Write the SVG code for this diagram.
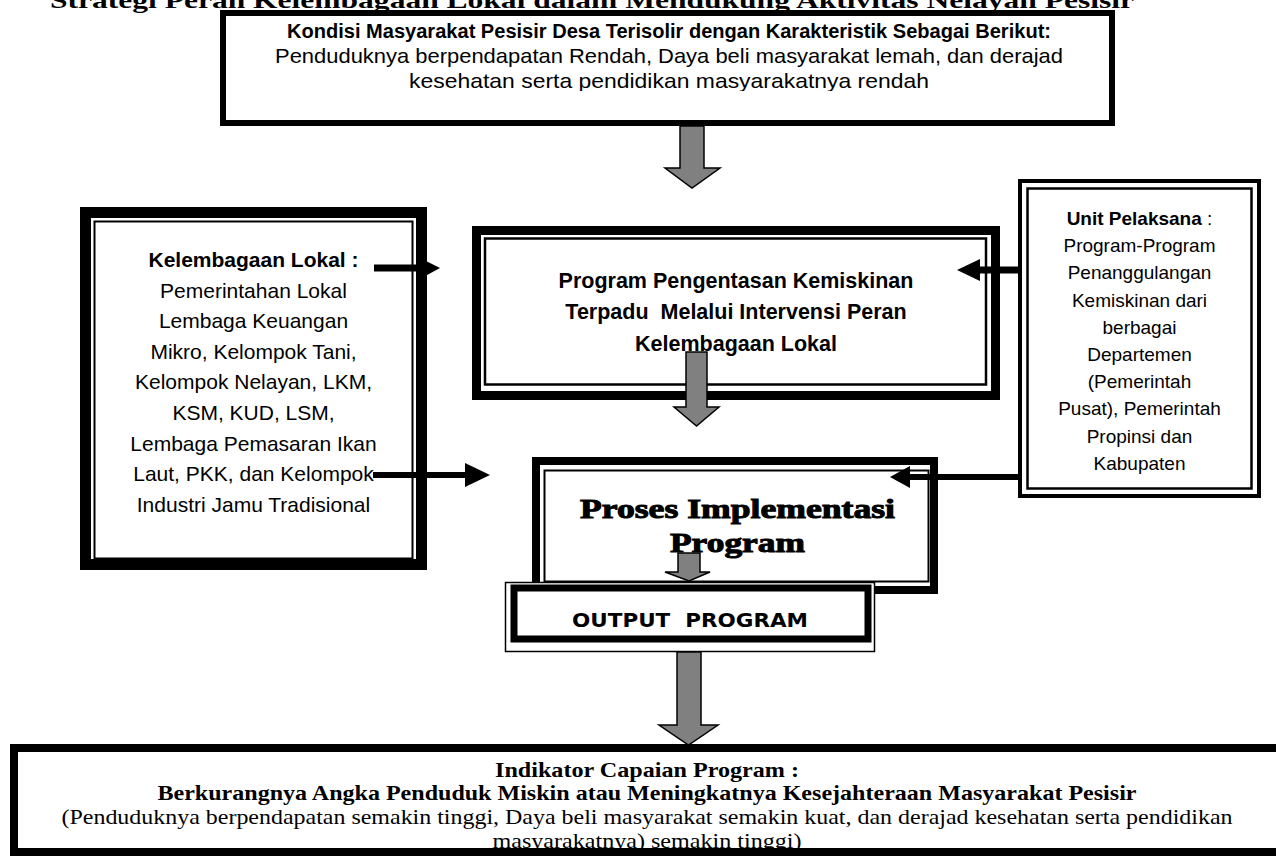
<svg xmlns="http://www.w3.org/2000/svg" width="1276" height="856" viewBox="0 0 1276 856">
<style>
.sans{font-family:"Liberation Sans",Arial,sans-serif;fill:#000}
.serif{font-family:"Liberation Serif","Times New Roman",serif;fill:#000}
.b{font-weight:bold}
.blk{fill:#000;stroke:none}
.gray{fill:#808080;stroke:#000;stroke-width:1.5;stroke-linejoin:miter}
.bar{stroke:#000;fill:none}
</style>
<defs>
<clipPath id="topclip"><rect x="226" y="16" width="883" height="75"/></clipPath>
</defs>
<rect x="0" y="0" width="1276" height="856" fill="#fff"/>
<text class="serif b" x="50" y="8" font-size="24" textLength="1084" lengthAdjust="spacingAndGlyphs">Strategi Peran Kelembagaan Lokal dalam Mendukung Aktivitas Nelayan Pesisir</text>

<g id="kondisi">
<rect x="223" y="13" width="889" height="110" fill="#fff" stroke="#000" stroke-width="6"/>
<g clip-path="url(#topclip)">
<text class="sans b" x="669" y="38" font-size="20" text-anchor="middle" textLength="764" lengthAdjust="spacingAndGlyphs">Kondisi Masyarakat Pesisir Desa Terisolir dengan Karakteristik Sebagai Berikut:</text>
<text class="sans" x="669" y="63" font-size="21" text-anchor="middle" textLength="788" lengthAdjust="spacingAndGlyphs">Penduduknya berpendapatan Rendah, Daya beli masyarakat lemah, dan derajad</text>
<text class="sans" x="669" y="88" font-size="21" text-anchor="middle" textLength="520" lengthAdjust="spacingAndGlyphs">kesehatan serta pendidikan masyarakatnya rendah</text>
</g>
</g>

<g id="kelembagaan">
<rect x="85.5" y="212.5" width="336" height="352" fill="#fff" stroke="#000" stroke-width="11"/>
<rect x="94.5" y="221.5" width="318" height="337" fill="none" stroke="#000" stroke-width="2"/>
<g class="sans" font-size="21" text-anchor="middle">
<text class="b" x="253.5" y="267">Kelembagaan Lokal :</text>
<text x="253.5" y="297.6">Pemerintahan Lokal</text>
<text x="253.5" y="328.2">Lembaga Keuangan</text>
<text x="253.5" y="358.8">Mikro, Kelompok Tani,</text>
<text x="253.5" y="389.4">Kelompok Nelayan, LKM,</text>
<text x="253.5" y="420">KSM, KUD, LSM,</text>
<text x="253.5" y="450.6">Lembaga Pemasaran Ikan</text>
<text x="253.5" y="481.2">Laut, PKK, dan Kelompok</text>
<text x="253.5" y="511.8">Industri Jamu Tradisional</text>
</g>
</g>

<g id="program">
<rect x="476.5" y="230.5" width="519" height="165" fill="#fff" stroke="#000" stroke-width="9"/>
<rect x="485" y="238.5" width="501" height="146" fill="none" stroke="#000" stroke-width="2.5"/>
<g class="sans b" font-size="21.5" text-anchor="middle">
<text x="736" y="288">Program Pengentasan Kemiskinan</text>
<text x="736" y="319">Terpadu&#160; Melalui Intervensi Peran</text>
<text x="736" y="351">Kelembagaan Lokal</text>
</g>
</g>

<g id="unit">
<rect x="1020" y="181" width="239" height="315" fill="#fff" stroke="#000" stroke-width="4"/>
<rect x="1027.5" y="188.5" width="224" height="300" fill="none" stroke="#000" stroke-width="2.5"/>
<g class="sans" font-size="19" text-anchor="middle">
<text x="1139.5" y="225"><tspan class="b">Unit Pelaksana</tspan> :</text>
<text x="1139.5" y="252.2">Program-Program</text>
<text x="1139.5" y="279.4">Penanggulangan</text>
<text x="1139.5" y="306.6">Kemiskinan dari</text>
<text x="1139.5" y="333.8">berbagai</text>
<text x="1139.5" y="361">Departemen</text>
<text x="1139.5" y="388.2">(Pemerintah</text>
<text x="1139.5" y="415.4">Pusat), Pemerintah</text>
<text x="1139.5" y="442.6">Propinsi dan</text>
<text x="1139.5" y="469.8">Kabupaten</text>
</g>
</g>

<g id="proses">
<rect x="536" y="461" width="398" height="129" fill="#fff" stroke="#000" stroke-width="8"/>
<rect x="544.5" y="470.5" width="384" height="111" fill="none" stroke="#000" stroke-width="2"/>
<text class="serif b" x="737.5" y="518" font-size="28" text-anchor="middle" stroke="#000" stroke-width="1" textLength="315" lengthAdjust="spacingAndGlyphs">Proses Implementasi</text>
<text class="serif b" x="737.5" y="552" font-size="28" text-anchor="middle" stroke="#000" stroke-width="1" textLength="135" lengthAdjust="spacingAndGlyphs">Program</text>
</g>

<g id="output">
<rect x="505.5" y="582.5" width="369" height="69" fill="#fff" stroke="#000" stroke-width="1.5"/>
<rect x="514" y="588" width="354" height="51" fill="none" stroke="#000" stroke-width="7"/>
<text x="690" y="627" font-family="'DejaVu Sans',Verdana,sans-serif" font-weight="bold" font-size="19" text-anchor="middle" textLength="236" lengthAdjust="spacingAndGlyphs">OUTPUT&#160; PROGRAM</text>
</g>

<g id="indikator">
<rect x="14" y="748" width="1270" height="104" fill="#fff"/>
<g class="serif" font-size="22" text-anchor="middle">
<text class="b" x="647" y="777" textLength="304" lengthAdjust="spacingAndGlyphs">Indikator Capaian Program :</text>
<text class="b" x="647" y="800" textLength="979" lengthAdjust="spacingAndGlyphs">Berkurangnya Angka Penduduk Miskin atau Meningkatnya Kesejahteraan Masyarakat Pesisir</text>
<text x="647" y="824" textLength="1171" lengthAdjust="spacingAndGlyphs">(Penduduknya berpendapatan semakin tinggi, Daya beli masyarakat semakin kuat, dan derajad kesehatan serta pendidikan</text>
<text x="647" y="848" textLength="309" lengthAdjust="spacingAndGlyphs">masyarakatnya) semakin tinggi)</text>
</g>
<rect x="14" y="748" width="1270" height="104" fill="none" stroke="#000" stroke-width="8"/>
</g>

<g id="connectors">
<polygon class="gray" points="680,126 704,126 704,168 720,168 692,188 665,168 680,168"/>
<polygon class="gray" points="686,352 707,352 707,407 719,407 696.5,426 674,407 686,407"/>
<polygon class="gray" points="678,553 700,553 700,572 710,572 689,581 665,572 678,572"/>
<polygon class="gray" points="677,652 701,652 701,725 718,725 688.5,745 659,725 677,725"/>
<line class="bar" x1="374" y1="268" x2="420" y2="268" stroke-width="7"/>
<polygon class="blk" points="418,257 440,268 418,280"/>
<line class="bar" x1="373" y1="475" x2="467" y2="475" stroke-width="6"/>
<polygon class="blk" points="465,463 490,475 465,487"/>
<line class="bar" x1="1022" y1="270" x2="978" y2="270" stroke-width="7"/>
<polygon class="blk" points="980,259 957,270 980,281"/>
<line class="bar" x1="1022" y1="477" x2="908" y2="477" stroke-width="6"/>
<polygon class="blk" points="910,466 890,477 910,488"/>
</g>
</svg>
